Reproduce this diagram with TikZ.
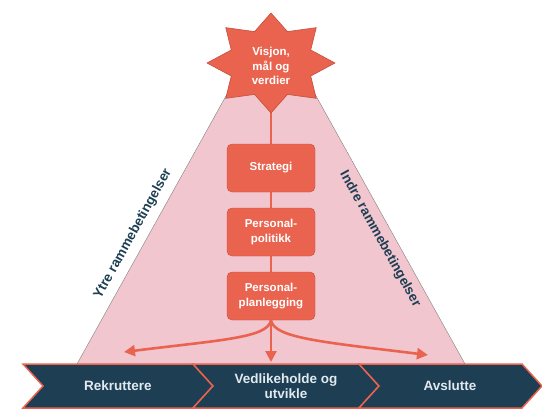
\documentclass[tikz,border=0pt]{standalone}
\usepackage{fontspec}
\setmainfont{Liberation Sans}
\usetikzlibrary{arrows.meta,positioning,backgrounds}
\definecolor{coral}{RGB}{233,99,79}
\definecolor{coraledge}{RGB}{196,80,62}
\definecolor{rosa}{RGB}{242,198,207}
\definecolor{navy}{RGB}{29,62,83}
\definecolor{lysblaa}{RGB}{224,234,240}

\begin{document}
\begin{tikzpicture}[x=1pt, y=-1pt, node distance=64pt,
    main/.style={draw=coraledge, fill=coral, rounded corners=5pt, minimum width=88pt,
      minimum height=48pt, text=white, align=center, inner sep=2pt,
      font=\bfseries\fontsize{11.5}{15}\selectfont},
    chev/.style={draw=coral, line width=1.5pt, fill=navy, line join=miter},
    chevtext/.style={text=lysblaa, align=center, font=\bfseries\fontsize{13.5}{14.5}\selectfont},
    side/.style={text=navy, font=\bfseries\fontsize{13.5}{15}\selectfont},
    pil/.style={draw=coral, line width=2.6pt, -{Triangle[length=11pt,width=11pt]}}]
  \useasboundingbox (0,0) rectangle (542,410);
  \node[main] (strategi) at (271,168) {Strategi};
  \node[main] (politikk) [below of=strategi] {Personal-\\politikk};
  \node[main] (planlegging) [below of=politikk] {Personal-\\planlegging};
  \node[text=white, align=center, font=\bfseries\fontsize{11.5}{14.5}\selectfont]
    (vision) at (271,66) {Visjon,\\mål og\\verdier};
  \begin{scope}[on background layer]
    \draw[fill=rosa, draw=gray, line width=0.4pt] (271,15) -- (77,364) -- (465,364) -- cycle;
    \draw[coral, line width=2pt] (vision) -- (planlegging);
    % stjerna
    \draw[draw=coraledge, fill=coral, line width=0.6pt, shift={(271,63)}] (0:64 and 50)
      \foreach \a in {0,45,...,315} { -- ({\a+22.5}:43 and 34) -- ({\a+45}:64 and 50)} -- cycle;
  \end{scope}
  \node[side, rotate=61] (ytre) at (133,234) {Ytre rammebetingelser};
  \node[side, rotate=-61] (indre) at (380,239) {Indre rammebetingelser};
  % prosessen
  \foreach \xa/\xb in {23/193, 193/359, 359/522}
    \draw[chev] (\xa,364) -- (\xb,364) -- (\xb+20,386) -- (\xb,408) -- (\xa,408) -- (\xa+20,386) -- cycle;
  \node[chevtext] (rekruttere) at (118,386) {Rekruttere};
  \node[chevtext] (vedlikehold) at (286,386) {Vedlikeholde og\\utvikle};
  \node[chevtext] (avslutte) at (450,386) {Avslutte};
  \coordinate (venstre) at (124,352);
  \coordinate (midt) at (271,362);
  \coordinate (hoyre) at (428,355);
  \draw[pil] (planlegging.south) .. controls (268,338) and (220,340) .. (venstre);
  \draw[pil] (planlegging.south) -- (midt);
  \draw[pil] (planlegging.south) .. controls (274,338) and (322,342) .. (hoyre);
\end{tikzpicture}
\end{document}
